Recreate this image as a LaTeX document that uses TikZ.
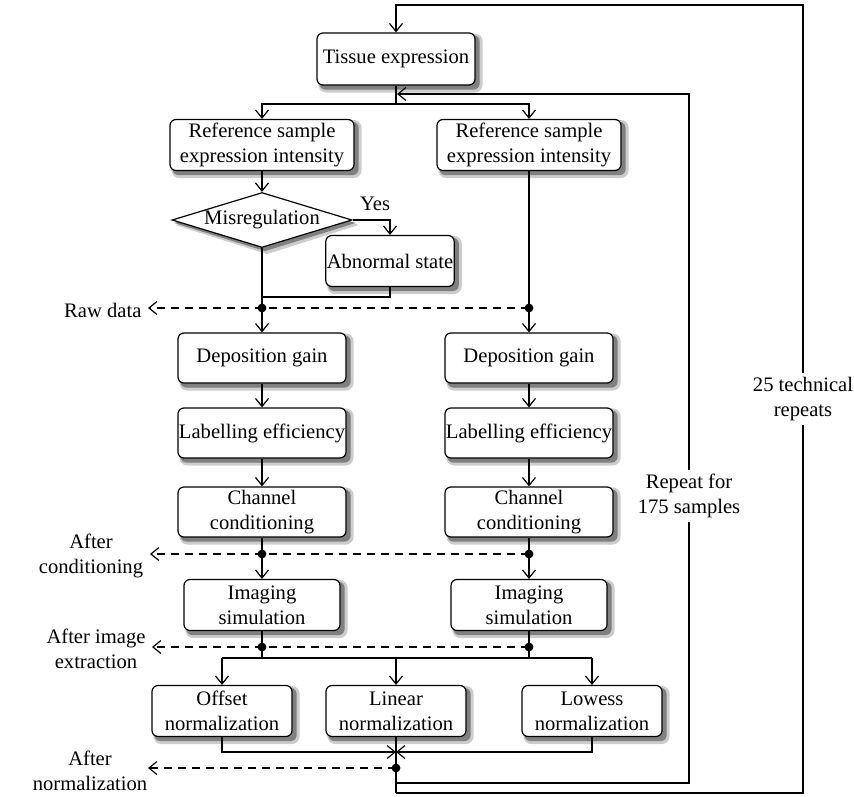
\documentclass[tikz,border=0pt]{standalone}
\usepackage{fontspec}
\setmainfont{Liberation Serif}
\usetikzlibrary{arrows.meta,shapes.geometric,backgrounds}

\begin{document}
\begin{tikzpicture}[x=0.5pt,y=-0.5pt,font=\fontsize{10.3}{12.5}\selectfont,line width=0.6pt,
  box/.style={draw,rounded corners=3pt,fill=white,align=center,inner sep=0.5pt},
  decision/.style={draw,diamond,fill=white,inner sep=0pt,aspect=3.3},
  arr/.style={-{Straight Barb[length=4pt,width=6.5pt]}},
  tap/.style={dashed,dash pattern=on 4pt off 3pt,-{Straight Barb[length=4pt,width=6.5pt]}},
  lbl/.style={fill=white,align=center,inner sep=2pt},
  tag/.style={align=center,inner sep=0pt}]
  \useasboundingbox (0,0) rectangle (854,796);

  % boxes
  \node[box,minimum width=79pt,minimum height=26pt] (tis) at (396,59) {Tissue expression};
  \node[box,minimum width=92pt,minimum height=25.5pt] (refL) at (262,145) {Reference sample\\expression intensity};
  \node[box,minimum width=92pt,minimum height=25.5pt] (refR) at (529,145) {Reference sample\\expression intensity};
  \node[decision,minimum width=90pt,minimum height=27.5pt] (mis) at (262,220) {Misregulation};
  \node[box,minimum width=55pt,minimum height=25.5pt] (abn) at (390,261) {Abnormal state};
  \node[box,minimum width=84pt,minimum height=25pt] (depL) at (262,358) {Deposition gain};
  \node[box,minimum width=84pt,minimum height=25pt] (depR) at (529,358) {Deposition gain};
  \node[box,minimum width=84pt,minimum height=25pt] (labL) at (262,433) {Labelling efficiency};
  \node[box,minimum width=84pt,minimum height=25pt] (labR) at (529,433) {Labelling efficiency};
  \node[box,minimum width=84pt,minimum height=25pt] (chaL) at (262,512) {Channel\\conditioning};
  \node[box,minimum width=84pt,minimum height=25pt] (chaR) at (529,512) {Channel\\conditioning};
  \node[box,minimum width=78pt,minimum height=25.5pt] (imgL) at (262,605) {Imaging\\simulation};
  \node[box,minimum width=78pt,minimum height=25.5pt] (imgR) at (529,605) {Imaging\\simulation};
  \node[box,minimum width=70pt,minimum height=25.5pt] (off) at (222,711) {Offset\\normalization};
  \node[box,minimum width=70pt,minimum height=25.5pt] (lin) at (396,711) {Linear\\normalization};
  \node[box,minimum width=70pt,minimum height=25.5pt] (low) at (592,711) {Lowess\\normalization};

  % shadows
  \begin{scope}[on background layer]
    \foreach \n in {tis,refL,refR,abn,depL,depR,labL,labR,chaL,chaR,imgL,imgR,off,lin,low} {
      \fill[black!20,rounded corners=4pt] ([shift={(2,1)}]\n.north west) rectangle ([shift={(7,7)}]\n.south east);
      \fill[black!50,rounded corners=3pt] ([shift={(3,3)}]\n.north west) rectangle ([shift={(4,4)}]\n.south east);
    }
    \fill[black!20] ([shift={(5,5)}]mis.north) -- ([shift={(6,5)}]mis.east) -- ([shift={(5,6)}]mis.south) -- ([shift={(4,5)}]mis.west) -- cycle;
    \fill[black!50] ([shift={(3,3)}]mis.north) -- ([shift={(3,3)}]mis.east) -- ([shift={(3,3)}]mis.south) -- ([shift={(3,3)}]mis.west) -- cycle;
  \end{scope}

  % side labels
  \node[tag,anchor=east] (raw) at (142,310) {Raw data};
  \node[tag] (cond) at (91,556) {After\\conditioning};
  \node[tag] (extr) at (96,649) {After image\\extraction};
  \node[tag] (norm) at (90,771) {After\\normalization};

  % junctions
  \coordinate (tisJ) at (396,104);
  \coordinate (rawL) at (262,308);
  \coordinate (rawR) at (529,308);
  \coordinate (abnJ) at (262,297);
  \coordinate (conL) at (262,554);
  \coordinate (conR) at (529,554);
  \coordinate (extL) at (262,647);
  \coordinate (extR) at (529,647);
  \coordinate (spl) at (396,658);
  \coordinate (merge) at (396,752);
  \coordinate (nrm) at (396,768);
  \coordinate (rawTip) at (148,308);
  \coordinate (conTip) at (150,554);
  \coordinate (extTip) at (152,647);
  \coordinate (nrmTip) at (148,768);
  \coordinate (inBL) at (396,783);
  \coordinate (inBR) at (689,783);
  \coordinate (inTR) at (689,94);
  \coordinate (inTL) at (397,94);
  \coordinate (outBL) at (396,793);
  \coordinate (outBR) at (803,793);
  \coordinate (outTR) at (803,5);
  \coordinate (outTL) at (396,5);

  % flow
  \draw (tis.south) -- (tisJ);
  \draw[arr] (tisJ) -| (refL.north);
  \draw[arr] (tisJ) -| (refR.north);
  \draw[arr] (refL) -- (mis);
  \draw[arr] (mis.east) -| node[pos=0.3,above=1pt] {Yes} (abn.north);
  \draw (abn.south) |- (abnJ);
  \draw[arr] (mis.south) -- (depL.north);
  \draw[arr] (refR.south) -- (depR.north);
  \draw[arr] (depL) -- (labL);
  \draw[arr] (depR) -- (labR);
  \draw[arr] (labL) -- (chaL);
  \draw[arr] (labR) -- (chaR);
  \draw[arr] (chaL) -- (imgL);
  \draw[arr] (chaR) -- (imgR);
  \draw (imgL.south) -- (imgL.south |- spl);
  \draw (imgR.south) -- (imgR.south |- spl);
  \draw (off.north |- spl) -- (low.north |- spl);
  \draw[arr] (off.north |- spl) -- (off.north);
  \draw[arr] (spl) -- (lin.north);
  \draw[arr] (low.north |- spl) -- (low.north);
  \draw[arr] (off.south) |- (merge);
  \draw[arr] (low.south) |- (merge);

  % repeat loops
  \draw (lin.south) -- (outBL);
  \draw[arr] (inBL) -- (inBR) -- node[lbl,pos=0.417] {Repeat for\\175 samples} (inTR) -- (inTL);
  \draw[arr] (outBL) -- (outBR) -- node[lbl] {25 technical\\repeats} (outTR) -- (outTL) -- (tis.north);

  % data taps
  \draw[tap] (rawR) -- (rawTip);
  \draw[tap] (conR) -- (conTip);
  \draw[tap] (extR) -- (extTip);
  \draw[tap] (nrm) -- (nrmTip);
  \foreach \p in {rawL,rawR,conL,conR,extL,extR,nrm}
    \fill (\p) circle (2.2pt);
\end{tikzpicture}
\end{document}
